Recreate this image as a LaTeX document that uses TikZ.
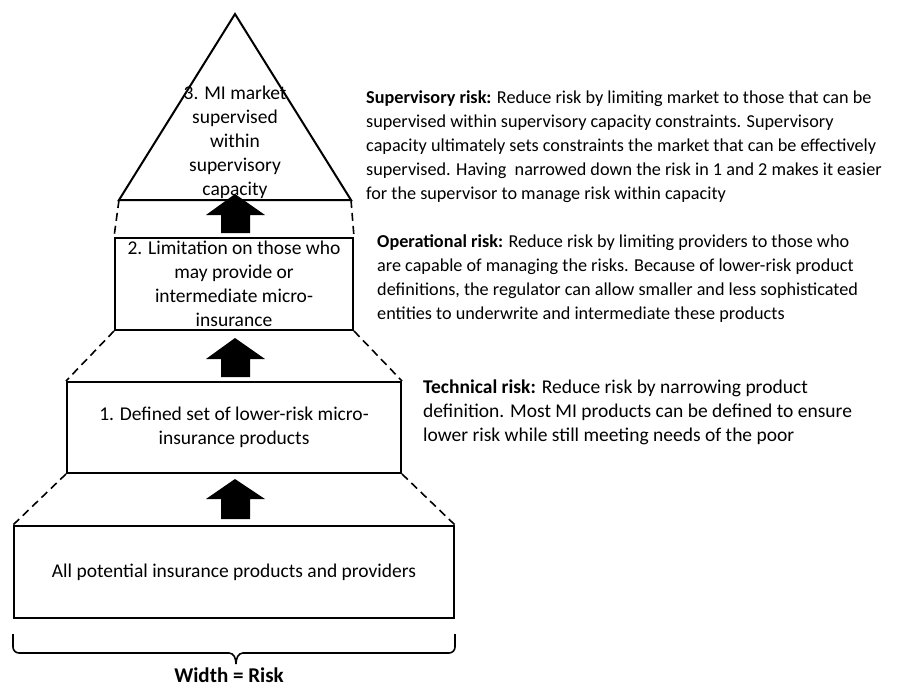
\documentclass[tikz,border=0pt]{standalone}
\usepackage{fontspec}
\setmainfont{Carlito}
\begin{document}
\begin{tikzpicture}[x=1pt,y=-1pt,
  box/.style={draw,line width=2pt,inner sep=0pt,align=center,font=\fontsize{19.5}{24}\selectfont},
  link/.style={dashed,line width=1.6pt,dash pattern=on 8pt off 5pt},
  blockarrow/.style={fill=black,draw=none},
  desc/.style={anchor=north west,align=left,inner sep=0pt,font=\fontsize{18.2}{24}\selectfont},
  lbl/.style={align=center,inner sep=0pt,font=\fontsize{19.5}{24}\selectfont}]
\useasboundingbox (0,0) rectangle (922,688);
% triangle
\coordinate (apex) at (235,14);
\coordinate (tl) at (119,200);
\coordinate (tr) at (351,200);
\draw[line width=2pt,line join=miter] (apex) -- (tr) -- (tl) -- cycle;
\node[lbl] (t3) at (235,142) {3. MI market\\supervised\\within\\supervisory\\capacity};
% boxes
\node[box,minimum width=238pt,minimum height=92pt] (b2) at (234,284) {2. Limitation on those who\\may provide or\\intermediate micro-\\insurance};
\node[box,minimum width=334pt,minimum height=91pt] (b1) at (234,427.5) {1. Defined set of lower-risk micro-\\insurance products};
\node[box,minimum width=440pt,minimum height=92pt] (b0) at (234,572) {All potential insurance products and providers};
% dashed connectors
\draw[link] (tl) -- (b2.north west);
\draw[link] (tr) -- (b2.north east);
\draw[link] (b2.south west) -- (b1.north west);
\draw[link] (b2.south east) -- (b1.north east);
\draw[link] (b1.south west) -- (b0.north west);
\draw[link] (b1.south east) -- (b0.north east);
% block arrows
\foreach \t/\hb/\sb in {194/215/233, 338/359/377, 479/499/519}{
  \fill[blockarrow] (235,\t) -- (265,\hb) -- (250,\hb) -- (250,\sb) -- (221,\sb) -- (221,\hb) -- (206,\hb) -- cycle;
}
% brace
\draw[line width=1.6pt,line join=round] (13,634) -- (13,647) to[out=-90,in=180] (19,653) -- (229,653) to[out=0,in=90] (236,664);
\draw[line width=1.6pt,line join=round] (236,664) to[out=90,in=180] (243,653) -- (449,653) to[out=0,in=-90] (455,647) -- (455,634);
\node[lbl,font=\fontsize{21}{24}\selectfont\bfseries] (wr) at (229,675.5) {Width = Risk};
% descriptions
\node[desc] (sup) at (366,90.5) {\textbf{Supervisory risk:} Reduce risk by limiting market to those that can be\\supervised within supervisory capacity constraints. Supervisory\\capacity ultimately sets constraints the market that can be effectively\\supervised. Having\ \ narrowed down the risk in 1 and 2 makes it easier\\for the supervisor to manage risk within capacity};
\node[desc] (op) at (377,234.5) {\textbf{Operational risk:} Reduce risk by limiting providers to those who\\are capable of managing the risks. Because of lower-risk product\\definitions, the regulator can allow smaller and less sophisticated\\entities to underwrite and intermediate these products};
\node[desc,font=\fontsize{19.5}{24}\selectfont] (tech) at (423,379.5) {\textbf{Technical risk:} Reduce risk by narrowing product\\definition. Most MI products can be defined to ensure\\lower risk while still meeting needs of the poor};
\end{tikzpicture}
\end{document}
